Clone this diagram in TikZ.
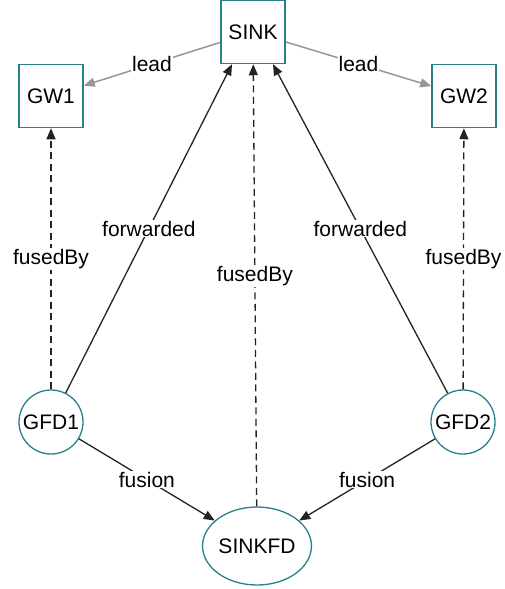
\documentclass[tikz,border=0pt]{standalone}
\usepackage{fontspec}
\setmainfont{Liberation Sans}
\usetikzlibrary{arrows.meta,shapes.geometric}
\definecolor{nodeline}{RGB}{40,128,140}
\definecolor{leadgray}{RGB}{150,150,150}
\definecolor{edgedark}{RGB}{35,35,35}
\begin{document}
\begin{tikzpicture}[x=1pt,y=-1pt,
  every node/.style={font=\fontsize{21}{25}\selectfont, text=black},
  boxnode/.style={draw=nodeline, line width=1.5pt, fill=white, minimum width=64pt, minimum height=63pt, inner sep=0pt},
  circnode/.style={draw=nodeline, line width=1.3pt, fill=white, circle, minimum size=64pt, inner sep=0pt},
  ellnode/.style={draw=nodeline, line width=1.3pt, fill=white, ellipse, minimum width=88pt, minimum height=78pt, inner sep=0pt},
  edge/.style={draw=edgedark, line width=1.3pt, -{Triangle[length=11pt,width=9pt]}},
  leadedge/.style={draw=leadgray, line width=1.5pt, -{Triangle[length=11pt,width=9pt]}},
  dashedge/.style={edge, dash pattern=on 7pt off 4.5pt},
  lbl/.style={fill=white, inner sep=1pt}
]
\useasboundingbox (0,0) rectangle (504,589);
\node[boxnode] (sink) at (253,32) {SINK};
\node[boxnode] (gw1) at (51,96) {GW1};
\node[boxnode] (gw2) at (464,96) {GW2};
\node[circnode] (gfd1) at (51,422) {GFD1};
\node[circnode] (gfd2) at (463,422) {GFD2};
\node[ellnode] (sinkfd) at (257,546) {SINKFD};

\draw[leadedge] (sink) -- node[lbl] {lead} (gw1);
\draw[leadedge] (sink) -- node[lbl] {lead} (gw2);
\draw[dashedge] (gfd1) -- node[lbl] {fusedBy} (gw1);
\draw[dashedge] (gfd2) -- node[lbl] {fusedBy} (gw2);
\draw[edge] (gfd1) -- node[lbl, pos=0.5] {forwarded} ([xshift=-21pt]sink.south);
\draw[edge] (gfd2) -- node[lbl, pos=0.5] {forwarded} ([xshift=20pt]sink.south);
\draw[dashedge] (sinkfd) -- node[lbl, pos=0.52] {fusedBy} (sink);
\draw[edge] (gfd1) -- node[lbl] {fusion} (sinkfd);
\draw[edge] (gfd2) -- node[lbl] {fusion} (sinkfd);
\end{tikzpicture}
\end{document}
